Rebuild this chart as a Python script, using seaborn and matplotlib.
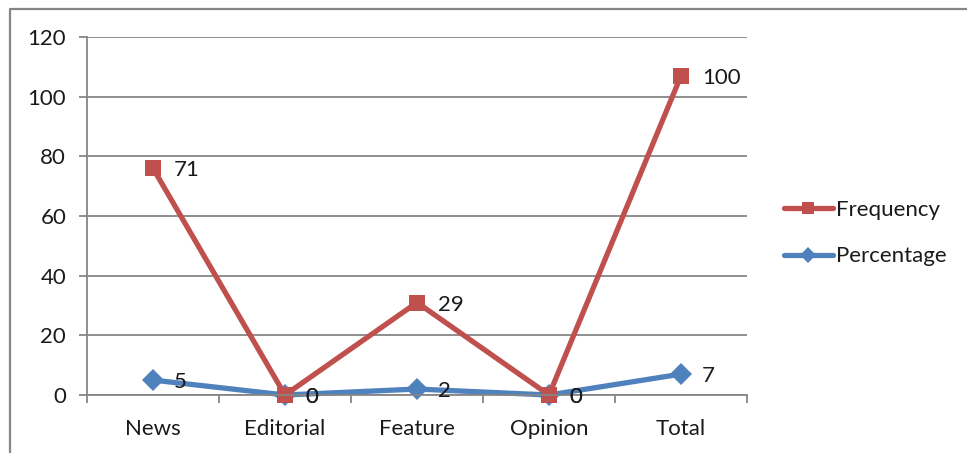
import matplotlib
matplotlib.use("Agg")
import matplotlib.pyplot as plt
import seaborn as sns
import pandas as pd
from matplotlib.lines import Line2D

categories = ["News", "Editorial", "Feature", "Opinion", "Total"]
frequency = [71, 0, 29, 0, 100]
percentage = [5, 0, 2, 0, 7]

# Stacked line chart: Frequency is drawn on top of Percentage
freq_stacked = [p + f for p, f in zip(percentage, frequency)]

df = pd.DataFrame({
    "category": categories * 2,
    "value": percentage + freq_stacked,
    "label": percentage + frequency,
    "series": ["Percentage"] * 5 + ["Frequency"] * 5,
})

sns.set_theme(style="white")
plt.rcParams["font.family"] = ["Lato", "DejaVu Sans"]

FS = 16
TXT = "#1a1a1a"
GRID = "#868686"

fig = plt.figure(figsize=(9.67, 4.53), dpi=100)
ax = fig.add_axes([87 / 967, 1 - 395 / 453, 660 / 967, 358 / 453])

palette = {"Frequency": "#C0504D", "Percentage": "#4F81BD"}
sns.lineplot(
    data=df, x="category", y="value", hue="series", style="series",
    markers={"Frequency": "s", "Percentage": "D"}, dashes=False,
    palette=palette, linewidth=3.8, markersize=11, markeredgewidth=0,
    ax=ax, sort=False, legend=False,
)
for ln in ax.lines:
    ln.set_clip_on(False)

# value labels
for _, row in df.iterrows():
    xi = categories.index(row["category"])
    ax.annotate(str(row["label"]), (xi, row["value"]), xytext=(15, -1.5),
                textcoords="offset points", ha="left", va="center",
                fontsize=FS, color=TXT, annotation_clip=False)

ax.set_xlim(-0.5, 4.5)
ax.set_ylim(0, 120)
ax.set_yticks(range(0, 121, 20))
ax.set_xticks(range(5))
ax.set_xticklabels(categories)
ax.set_xlabel("")
ax.set_ylabel("")
ax.grid(axis="y", color=GRID, linewidth=1.3)
ax.set_axisbelow(True)
for side in ["top", "right"]:
    ax.spines[side].set_visible(False)
for side in ["left", "bottom"]:
    ax.spines[side].set_color(GRID)
    ax.spines[side].set_linewidth(1.3)

ax.tick_params(axis="y", length=6, width=1.3, color=GRID, labelsize=FS,
               labelcolor=TXT, pad=9, left=True)
ax.tick_params(axis="x", length=0, labelsize=FS, labelcolor=TXT, pad=17)
# category boundary ticks on the x axis
ax.set_xticks([i - 0.5 for i in range(6)], minor=True)
ax.tick_params(axis="x", which="minor", length=6, width=1.3, color=GRID,
               bottom=True)

handles = [
    Line2D([], [], color=palette["Frequency"], marker="s", markersize=9,
           markeredgewidth=0, linewidth=3.8),
    Line2D([], [], color=palette["Percentage"], marker="D", markersize=8,
           markeredgewidth=0, linewidth=3.8),
]
leg = ax.legend(handles, ["Frequency", "Percentage"], loc="center left",
                bbox_to_anchor=(777 / 967, 1 - 233 / 453),
                bbox_transform=fig.transFigure, frameon=False,
                borderaxespad=0, borderpad=0.3,
                fontsize=FS, handlelength=2.2, handletextpad=0.15,
                labelspacing=1.2)
for t in leg.get_texts():
    t.set_color(TXT)

# outer chart frame (top and left edges)
fig.add_artist(Line2D([9.5 / 967, 9.5 / 967, 1.0], [0.0, 1 - 8.5 / 453, 1 - 8.5 / 453],
                      transform=fig.transFigure, color=GRID, linewidth=1.6))

fig.savefig("out.png", dpi=100)
